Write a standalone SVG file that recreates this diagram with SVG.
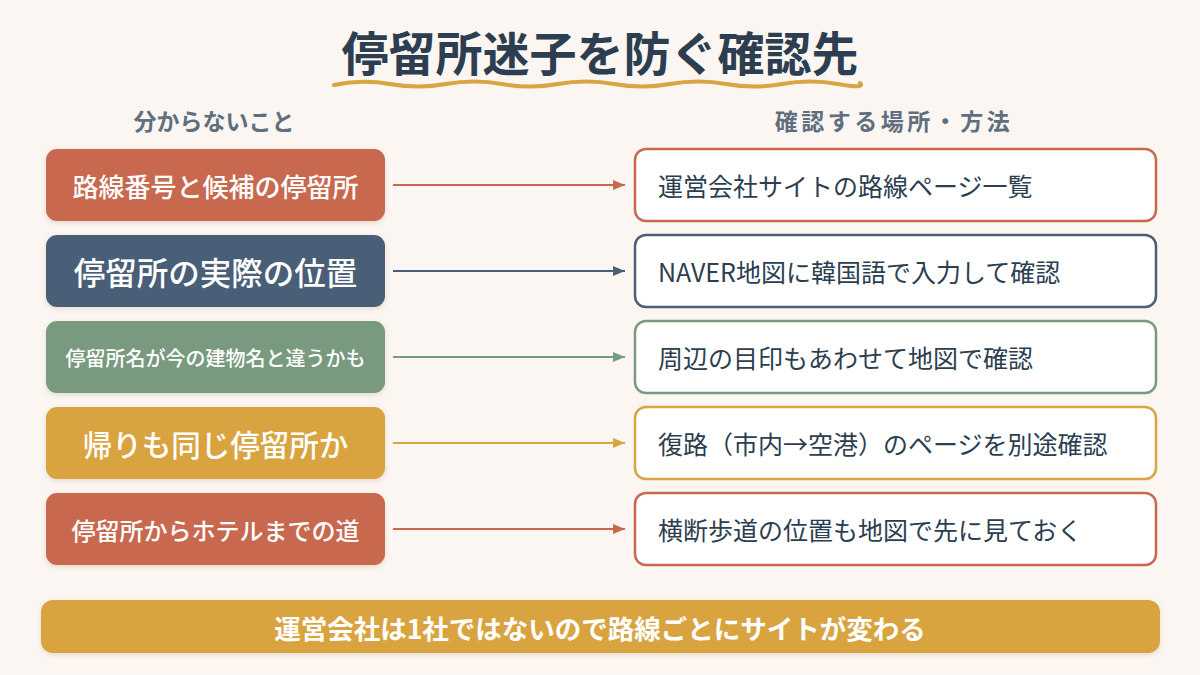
<svg xmlns="http://www.w3.org/2000/svg" width="1200" height="675" viewBox="0 0 1200 675">
<defs>
<filter id="sh" x="-10%" y="-20%" width="120%" height="150%">
<feDropShadow dx="0" dy="2" stdDeviation="2.5" flood-color="#7a5a40" flood-opacity="0.18"/>
</filter>
<marker id="ah-red" viewBox="0 0 12 10" refX="12" refY="5" markerWidth="12" markerHeight="10" markerUnits="userSpaceOnUse" orient="auto"><path d="M0,0 L12,5 L0,10 z" fill="#c8694f"/></marker>
<marker id="ah-blue" viewBox="0 0 12 10" refX="12" refY="5" markerWidth="12" markerHeight="10" markerUnits="userSpaceOnUse" orient="auto"><path d="M0,0 L12,5 L0,10 z" fill="#4a5f78"/></marker>
<marker id="ah-green" viewBox="0 0 12 10" refX="12" refY="5" markerWidth="12" markerHeight="10" markerUnits="userSpaceOnUse" orient="auto"><path d="M0,0 L12,5 L0,10 z" fill="#7a9a80"/></marker>
<marker id="ah-gold" viewBox="0 0 12 10" refX="12" refY="5" markerWidth="12" markerHeight="10" markerUnits="userSpaceOnUse" orient="auto"><path d="M0,0 L12,5 L0,10 z" fill="#d9a441"/></marker>
</defs>
<style>
text { font-family: "Noto Sans CJK JP", "Noto Sans", sans-serif; }
.title { font-size: 47px; font-weight: 700; fill: #2c3e50; }
.hdr { font-size: 23px; font-weight: 700; fill: #5f6f7f; }
.lbox { filter: url(#sh); }
.ltxt { fill: #ffffff; font-weight: 500; text-anchor: middle; dominant-baseline: central; }
.rbox { fill: #ffffff; stroke-width: 2.5; }
.rtxt { font-size: 25px; fill: #2c3e50; dominant-baseline: central; }
.conn { stroke-width: 2; fill: none; }
.red { fill: #c8694f; } .blue { fill: #4a5f78; } .green { fill: #7a9a80; } .gold { fill: #d9a441; }
</style>
<rect width="1200" height="675" fill="#fbf6f1"/>

<g id="title">
<text class="title" x="600" y="50" text-anchor="middle" dominant-baseline="central">停留所迷子を防ぐ確認先</text>
<path d="M334,85 Q362,79 390,84 T446,84 T502,84 T558,84 T614,84 T670,84 T726,84 T782,84 T838,84 T860,83" fill="none" stroke="#d9a441" stroke-width="4" stroke-linecap="round"/>
</g>

<g id="headers">
<text class="hdr" x="214" y="120" text-anchor="middle" dominant-baseline="central">分からないこと</text>
<text class="hdr" x="894" y="120" text-anchor="middle" dominant-baseline="central" letter-spacing="3.5">確認する場所・方法</text>
</g>

<g id="connectors">
<line class="conn" x1="393" y1="185" x2="625" y2="185" stroke="#c8694f" marker-end="url(#ah-red)"/>
<line class="conn" x1="393" y1="271" x2="625" y2="271" stroke="#4a5f78" marker-end="url(#ah-blue)"/>
<line class="conn" x1="393" y1="357" x2="625" y2="357" stroke="#7a9a80" marker-end="url(#ah-green)"/>
<line class="conn" x1="393" y1="443" x2="625" y2="443" stroke="#d9a441" marker-end="url(#ah-gold)"/>
<line class="conn" x1="393" y1="529" x2="625" y2="529" stroke="#c8694f" marker-end="url(#ah-red)"/>
</g>

<g id="q1">
<rect class="lbox red" x="46" y="149" width="339" height="72" rx="11"/>
<text class="ltxt" x="215.5" y="185" font-size="26">路線番号と候補の停留所</text>
</g>
<g id="q2">
<rect class="lbox blue" x="46" y="235" width="339" height="72" rx="11"/>
<text class="ltxt" x="215.5" y="271" font-size="31.5">停留所の実際の位置</text>
</g>
<g id="q3">
<rect class="lbox green" x="46" y="321" width="339" height="72" rx="11"/>
<text class="ltxt" x="215.5" y="357" font-size="20">停留所名が今の建物名と違うかも</text>
</g>
<g id="q4">
<rect class="lbox gold" x="46" y="407" width="339" height="72" rx="11"/>
<text class="ltxt" x="215.5" y="443" font-size="29.5">帰りも同じ停留所か</text>
</g>
<g id="q5">
<rect class="lbox red" x="46" y="493" width="339" height="72" rx="11"/>
<text class="ltxt" x="215.5" y="529" font-size="24">停留所からホテルまでの道</text>
</g>

<g id="a1">
<rect class="rbox" x="635" y="149" width="521" height="72" rx="11" stroke="#c8694f"/>
<text class="rtxt" x="658" y="185">運営会社サイトの路線ページ一覧</text>
</g>
<g id="a2">
<rect class="rbox" x="635" y="235" width="521" height="72" rx="11" stroke="#4a5f78"/>
<text class="rtxt" x="658" y="271">NAVER地図に韓国語で入力して確認</text>
</g>
<g id="a3">
<rect class="rbox" x="635" y="321" width="521" height="72" rx="11" stroke="#7a9a80"/>
<text class="rtxt" x="658" y="357">周辺の目印もあわせて地図で確認</text>
</g>
<g id="a4">
<rect class="rbox" x="635" y="407" width="521" height="72" rx="11" stroke="#d9a441"/>
<text class="rtxt" x="658" y="443">復路（市内→空港）のページを別途確認</text>
</g>
<g id="a5">
<rect class="rbox" x="635" y="493" width="521" height="72" rx="11" stroke="#c8694f"/>
<text class="rtxt" x="658" y="529">横断歩道の位置も地図で先に見ておく</text>
</g>

<g id="note">
<rect class="lbox gold" x="41" y="600" width="1119" height="53" rx="12"/>
<text x="600" y="627" text-anchor="middle" dominant-baseline="central" font-size="26.5" font-weight="700" fill="#ffffff">運営会社は1社ではないので路線ごとにサイトが変わる</text>
</g>
</svg>
